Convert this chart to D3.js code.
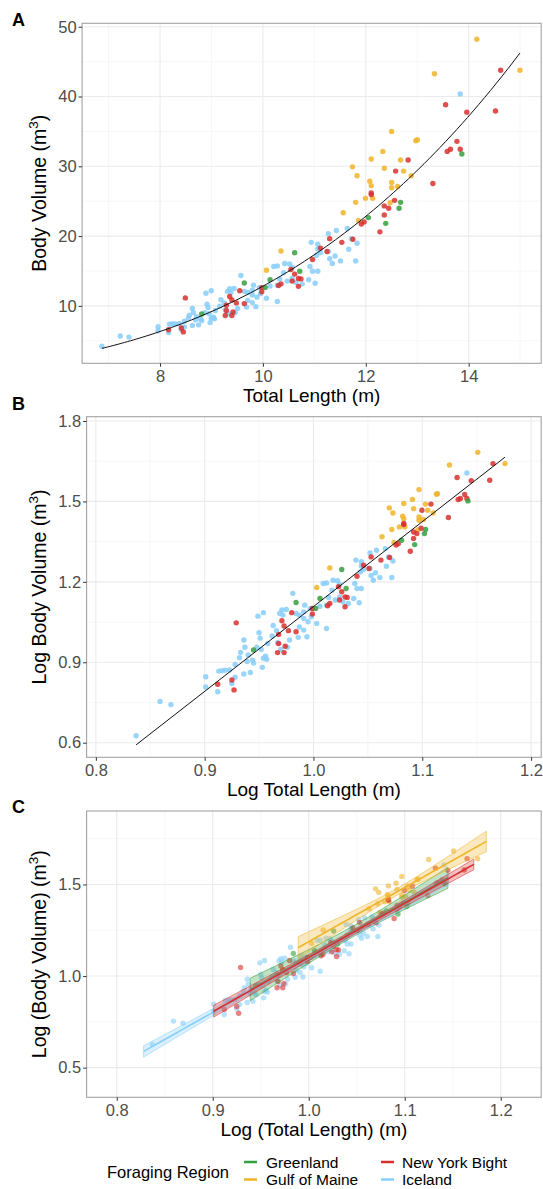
<!DOCTYPE html>
<html>
<head>
<meta charset="utf-8">
<script src="https://cdn.jsdelivr.net/npm/d3@7"></script>
<style>
  body { margin: 0; background: #fff; }
  text { font-family: "Liberation Sans", Arial, Helvetica, sans-serif; }
</style>
</head>
<body>
<script>
var W = 543, H = 1189;

// foraging regions, in legend order
var regions = ["Greenland", "Gulf of Maine", "New York Bight", "Iceland"];
var regionColors = ["#35a040", "#f0b429", "#d8302f", "#87cefa"];

// [log10 total length (m), log10 body volume (m3)] per whale
var greenland = [[0.945,0.946],[0.984,1.123],[1.081,1.355],[1.093,1.339],[1.103,1.395],[1.102,1.380],
  [1.026,1.246],[1.006,1.138],[1.002,1.101],[1.030,1.175],[1.142,1.502]];

var gulfOfMaine = [[1.0697,1.476],[1.083,1.492],[1.091,1.507],[1.092,1.473],[1.073,1.457],[1.082,1.445],
  [1.083,1.435],[1.084,1.405],[1.079,1.405],[1.072,1.395],[1.097,1.442],[1.103,1.490],[1.105,1.467],
  [1.113,1.527],[1.063,1.368],[1.015,1.252],[1.003,1.179],[1.074,1.347],[1.151,1.683],[1.176,1.641],
  [1.125,1.636],[1.097,1.544],[1.114,1.529],[1.110,1.457],[1.097,1.430],[1.101,1.433],[1.096,1.394]];

var newYorkBight = [[0.929,1.047],[0.912,0.818],[0.925,0.834],[0.927,0.797],[0.971,1.055],[0.973,1.035],
  [0.980,1.085],[0.968,1.004],[0.968,0.970],[0.967,0.936],[0.974,0.960],[0.973,0.936],[0.984,1.014],
  [0.977,1.018],[1.083,1.414],[1.108,1.490],[1.092,1.386],[1.095,1.380],[1.092,1.362],[1.089,1.314],
  [1.078,1.343],[1.076,1.337],[1.062,1.281],[1.070,1.291],[1.053,1.293],[1.046,1.262],[1.051,1.250],
  [1.040,1.221],[1.023,1.182],[1.026,1.163],[1.029,1.144],[1.031,1.142],[1.024,1.132],[1.015,1.119],
  [1.013,1.111],[0.999,1.101],[1.029,1.107],[0.999,1.080],[1.132,1.589],[1.145,1.577],[1.165,1.641],
  [1.162,1.579],[1.124,1.440],[1.135,1.511],[1.133,1.507],[1.139,1.526],[1.141,1.511],[1.0997,1.467],
  [1.099,1.400],[1.083,1.418]];

var iceland = [[0.837,0.626],[0.859,0.754],[0.869,0.742],[0.901,0.846],[0.901,0.808],[0.913,0.867],
  [0.916,0.869],[0.919,0.870],[0.923,0.871],[0.912,0.790],[0.925,0.821],[0.928,0.844],[0.928,0.892],
  [0.932,0.917],[0.933,0.937],[0.936,0.983],[0.937,0.956],[0.936,0.856],[0.942,0.862],[0.940,0.927],
  [0.939,0.903],[0.944,0.908],[0.945,0.897],[0.949,1.072],[0.954,1.085],[0.950,1.010],[0.951,0.990],
  [0.953,0.881],[0.954,0.915],[0.957,0.911],[0.956,0.923],[0.948,0.956],[0.958,0.970],[0.963,1.037],
  [0.962,0.998],[0.967,0.973],[0.969,1.082],[0.971,1.095],[0.972,1.076],[0.975,1.097],[0.981,1.157],
  [0.978,0.983],[0.970,0.948],[0.976,0.956],[0.984,1.082],[0.986,0.993],[0.952,0.948],[0.966,1.018],
  [1.052,1.308],[1.058,1.318],[1.066,1.324],[1.073,1.278],[1.072,1.216],[1.067,1.258],[1.069,1.293],
  [1.039,1.281],[1.043,1.237],[1.044,1.259],[1.046,1.246],[1.052,1.250],[1.053,1.224],[1.057,1.234],
  [1.061,1.216],[1.055,1.206],[1.009,1.194],[1.012,1.196],[1.018,1.206],[1.022,1.204],[1.024,1.191],
  [1.017,1.169],[1.014,1.142],[1.020,1.132],[1.024,1.144],[1.038,1.194],[1.040,1.175],[1.044,1.175],
  [1.037,1.138],[1.042,1.122],[1.032,1.119],[1.027,1.126],[1.012,1.113],[1.006,1.109],[0.997,1.101],
  [0.992,1.113],[0.991,1.088],[0.987,1.076],[0.991,1.063],[0.995,1.051],[0.998,1.070],[1.003,1.045],
  [0.987,1.032],[0.991,1.020],[0.994,0.995],[1.012,1.026],[1.044,1.275],[1.141,1.606]];

var regionData = [greenland, gulfOfMaine, newYorkBight, iceland];

// span of each region's fitted line in panel C (log10 length)
var fitRange = [[0.939, 1.145], [0.989, 1.185], [0.901, 1.172], [0.828, 1.146]];

// axis ticks
var aTicksX = [8, 10, 12, 14], aTicksY = [10, 20, 30, 40, 50];
var bTicksX = [0.8, 0.9, 1.0, 1.1, 1.2], bTicksY = [0.6, 0.9, 1.2, 1.5, 1.8];
var cTicksX = [0.8, 0.9, 1.0, 1.1, 1.2], cTicksY = [0.5, 1.0, 1.5];

var svg = d3.select("body").append("svg")
  .attr("width", W).attr("height", H);

function stats(pts) {
  var mx = d3.mean(pts, d => d[0]), my = d3.mean(pts, d => d[1]);
  return {n: pts.length, mx: mx, my: my,
    sxx: d3.sum(pts, d => (d[0] - mx) * (d[0] - mx)),
    sxy: d3.sum(pts, d => (d[0] - mx) * (d[1] - my))};
}

// overall log-log fit (panels A, B)
var all = d3.merge(regionData);
var ov = stats(all);
var slope = ov.sxy / ov.sxx, icpt = ov.my - slope * ov.mx;
var xMin = d3.min(all, d => d[0]), xMax = d3.max(all, d => d[0]);

// common slope, one intercept per region (panel C)
var groups = regionData.map(function(pts, i) {
  var s = stats(pts);
  s.pts = pts; s.name = regions[i]; s.color = regionColors[i]; s.range = fitRange[i];
  return s;
});
var cSlope = d3.sum(groups, g => g.sxy) / d3.sum(groups, g => g.sxx);
var rss = 0;
groups.forEach(function(g) {
  g.a = g.my - cSlope * g.mx;
  g.pts.forEach(function(d) { rss += Math.pow(d[1] - g.a - cSlope * d[0], 2); });
});
var s2 = rss / (all.length - groups.length - 1);
var tq = 1.97;

function panel(o) {
  var g = svg.append("g");
  var x = d3.scaleLinear().domain(o.xDom).range([o.box[0], o.box[2]]);
  var y = d3.scaleLinear().domain(o.yDom).range([o.box[3], o.box[1]]);

  // grid
  g.selectAll(".mnx").data(o.xMinor).enter().append("line")
    .attr("x1", x).attr("x2", x).attr("y1", o.box[1]).attr("y2", o.box[3])
    .attr("stroke", "#f3f3f3").attr("stroke-width", 0.7);
  g.selectAll(".mny").data(o.yMinor).enter().append("line")
    .attr("y1", y).attr("y2", y).attr("x1", o.box[0]).attr("x2", o.box[2])
    .attr("stroke", "#f3f3f3").attr("stroke-width", 0.7);
  g.selectAll(".mjx").data(o.xTicks).enter().append("line")
    .attr("x1", x).attr("x2", x).attr("y1", o.box[1]).attr("y2", o.box[3])
    .attr("stroke", "#ebebeb").attr("stroke-width", 1.1);
  g.selectAll(".mjy").data(o.yTicks).enter().append("line")
    .attr("y1", y).attr("y2", y).attr("x1", o.box[0]).attr("x2", o.box[2])
    .attr("stroke", "#ebebeb").attr("stroke-width", 1.1);

  o.draw(g, x, y);

  g.append("rect")
    .attr("x", o.box[0]).attr("y", o.box[1])
    .attr("width", o.box[2] - o.box[0]).attr("height", o.box[3] - o.box[1])
    .attr("fill", "none").attr("stroke", "#a3a3a3").attr("stroke-width", 1.1);

  var ax = g.append("g").attr("transform", "translate(0," + o.box[3] + ")")
    .call(d3.axisBottom(x).tickValues(o.xTicks).tickFormat(o.fmtX).tickSize(3.5).tickPadding(3));
  var ay = g.append("g").attr("transform", "translate(" + o.box[0] + ",0)")
    .call(d3.axisLeft(y).tickValues(o.yTicks).tickFormat(o.fmtY).tickSize(3.5).tickPadding(2));
  [ax, ay].forEach(function(a) {
    a.select(".domain").remove();
    a.selectAll("line").attr("stroke", "#333").attr("stroke-width", 1);
    a.selectAll("text").attr("fill", "#4d4d4d").style("font-size", "16.5px")
      .style("font-family", "'Liberation Sans', Arial, sans-serif");
  });

  g.append("text")
    .attr("x", (o.box[0] + o.box[2]) / 2).attr("y", o.box[3] + 39)
    .attr("text-anchor", "middle").style("font-size", "19px").text(o.xTitle);

  var yt = g.append("text")
    .attr("transform", "translate(46," + (o.box[1] + o.box[3]) / 2 + ") rotate(-90)")
    .attr("text-anchor", "middle").style("font-size", "19.5px");
  yt.append("tspan").text(o.yTitle + " (m");
  yt.append("tspan").attr("dy", -8).style("font-size", "13.5px").text("3");
  yt.append("tspan").attr("dy", 8).text(")");

  svg.append("text").attr("x", 12).attr("y", o.labelY)
    .style("font-size", "18px").style("font-weight", "bold").text(o.label);
}

function drawPoints(g, x, y, tx, op) {
  var order = [3, 1, 2, 0];
  order.forEach(function(i) {
    g.append("g").selectAll("circle").data(regionData[i]).enter().append("circle")
      .attr("cx", d => x(tx(d[0]))).attr("cy", d => y(tx(d[1])))
      .attr("r", 2.7).attr("fill", regionColors[i]).attr("fill-opacity", op);
  });
}

var f1 = d3.format(".1f"), f0 = d3.format("d");
var pow10 = v => Math.pow(10, v), ident = v => v;

panel({label: "A", labelY: 26, box: [82.1, 23.3, 541.2, 363.3],
  xDom: [6.485, 15.41], yDom: [1.77, 50.49],
  xTicks: aTicksX, yTicks: aTicksY, xMinor: [7, 9, 11, 13, 15], yMinor: [5, 15, 25, 35, 45],
  fmtX: f0, fmtY: f0, xTitle: "Total Length (m)", yTitle: "Body Volume",
  draw: function(g, x, y) {
    drawPoints(g, x, y, pow10, 0.85);
    var xs = d3.range(0, 101).map(i => xMin + (xMax - xMin) * i / 100);
    g.append("path").datum(xs)
      .attr("d", d3.line().x(v => x(pow10(v))).y(v => y(pow10(icpt + slope * v))))
      .attr("fill", "none").attr("stroke", "#111").attr("stroke-width", 1);
  }});

panel({label: "B", labelY: 410, box: [86.6, 416.7, 541.2, 757.3],
  xDom: [0.7915, 1.2093], yDom: [0.5455, 1.816],
  xTicks: bTicksX, yTicks: bTicksY, xMinor: [0.85, 0.95, 1.05, 1.15], yMinor: [0.75, 1.05, 1.35, 1.65],
  fmtX: f1, fmtY: f1, xTitle: "Log Total Length (m)", yTitle: "Log Body Volume",
  draw: function(g, x, y) {
    drawPoints(g, x, y, ident, 0.85);
    g.append("path").datum([xMin, xMax])
      .attr("d", d3.line().x(v => x(v)).y(v => y(icpt + slope * v)))
      .attr("fill", "none").attr("stroke", "#111").attr("stroke-width", 1);
  }});

panel({label: "C", labelY: 813, box: [86.6, 811, 541.2, 1097.3],
  xDom: [0.7686, 1.2422], yDom: [0.338, 1.901],
  xTicks: cTicksX, yTicks: cTicksY, xMinor: [0.85, 0.95, 1.05, 1.15], yMinor: [0.75, 1.25, 1.75],
  fmtX: f1, fmtY: f1, xTitle: "Log (Total Length) (m)", yTitle: "Log (Body Volume)",
  draw: function(g, x, y) {
    drawPoints(g, x, y, ident, 0.6);
    [0, 1, 3, 2].forEach(function(i) {
      var gr = groups[i];
      var xs = d3.range(0, 41).map(k => gr.range[0] + (gr.range[1] - gr.range[0]) * k / 40);
      var fit = v => gr.a + cSlope * v;
      var hw = v => tq * Math.sqrt(s2 * (1 / gr.n + (v - gr.mx) * (v - gr.mx) / gr.sxx));
      g.append("path").datum(xs)
        .attr("d", d3.area().x(v => x(v)).y0(v => y(fit(v) - hw(v))).y1(v => y(fit(v) + hw(v))))
        .attr("fill", gr.color).attr("fill-opacity", 0.3)
        .attr("stroke", gr.color).attr("stroke-opacity", 0.55).attr("stroke-width", 1);
      g.append("path").datum(xs)
        .attr("d", d3.line().x(v => x(v)).y(v => y(fit(v))))
        .attr("fill", "none").attr("stroke", gr.color).attr("stroke-width", 1.6);
    });
  }});

// legend
var lg = svg.append("g");
lg.append("text").attr("x", 107).attr("y", 1177.5).style("font-size", "16.5px").text("Foraging Region");
var cols = [[244, 266], [381, 402]];
regions.forEach(function(r, i) {
  var c = cols[Math.floor(i / 2)], ry = [1162, 1179.5][i % 2];
  lg.append("line").attr("x1", c[0]).attr("x2", c[0] + 13).attr("y1", ry).attr("y2", ry)
    .attr("stroke", regionColors[i]).attr("stroke-width", 2.5);
  lg.append("text").attr("x", c[1]).attr("y", ry + 5.5).style("font-size", "15.5px").text(r);
});
</script>
</body>
</html>
